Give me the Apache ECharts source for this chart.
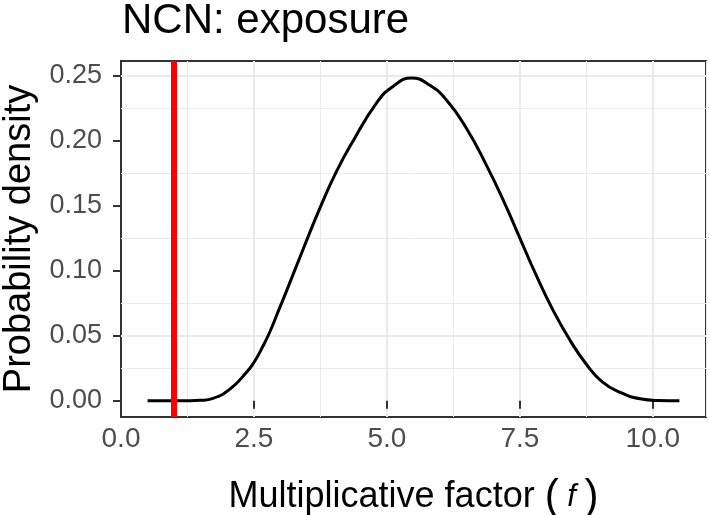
<!DOCTYPE html>
<html>
<head>
<meta charset="utf-8">
<script src="https://cdn.jsdelivr.net/npm/echarts@6/dist/echarts.min.js"></script>
<style>
html,body{margin:0;padding:0;background:#fff;}
#chart{width:709px;height:515px;}
</style>
</head>
<body>
<div id="chart"></div>
<script>
// Data
const curveX = [0.5, 1.0, 1.3, 1.5, 1.73, 2.05, 2.36, 2.5, 2.67, 2.80, 2.96, 3.11, 3.43, 3.74, 4.05, 4.37, 4.81, 5.1, 5.46, 5.8, 6.12, 6.5, 6.87, 7.2, 7.5, 7.8, 8.13, 8.45, 8.75, 9.05, 9.38, 9.76, 10.1, 10.5];
const curveY = [0, 0, 0, 0.0003, 0.0018, 0.009, 0.0218, 0.0294, 0.042, 0.053, 0.069, 0.084, 0.117, 0.148, 0.176, 0.200, 0.229, 0.241, 0.248, 0.2425, 0.231, 0.209, 0.181, 0.153, 0.125, 0.097, 0.069, 0.046, 0.028, 0.0145, 0.0065, 0.0015, 0.0002, 0];
const refLineX = [1];
const xTicks = [0, 2.5, 5, 7.5, 10];
const yTicks = [0, 0.05, 0.10, 0.15, 0.20, 0.25];
const titleText = 'NCN: exposure';
const xTitle = 'Multiplicative factor';
const yTitle = 'Probability density';

const FONT = 'Liberation Sans';
const MAJOR = '#EBEBEB';
const T = 'rgba(0,0,0,0)';

const chart = echarts.init(document.getElementById('chart'), null, {renderer: 'canvas'});

const curveData = curveX.map((x, i) => [x, curveY[i]]);

const option = {
  animation: false,
  backgroundColor: '#fff',
  title: {
    text: titleText,
    left: 122, top: 0, padding: 0,
    textStyle: {fontFamily: FONT, fontSize: 42, fontWeight: 'normal', color: '#000'}
  },
  grid: {
    left: 121, right: 3, top: 61, bottom: 98,
    outerBoundsMode: 'none', containLabel: false,
    show: true, borderColor: '#333333', borderWidth: 2, backgroundColor: '#fff'
  },
  xAxis: [{
    type: 'value', min: 0, max: 11, interval: 2.5,
    axisLine: {show: false},
    axisTick: {show: true, length: 8, customValues: xTicks, lineStyle: {color: '#333333', width: 2}},
    axisLabel: {customValues: xTicks, margin: 8, fontFamily: FONT, fontSize: 28, color: '#4D4D4D',
      formatter: v => v.toFixed(1)},
    splitLine: {show: true, lineStyle: {color: [T, MAJOR, MAJOR, MAJOR, MAJOR, T], width: 2}},
    name: '{n|' + xTitle + ' }{p|(}{i| f }{p|)}',
    nameLocation: 'middle', nameGap: 59,
    nameTextStyle: {
      rich: {
        n: {fontFamily: FONT, fontSize: 36, color: '#000'},
        p: {fontFamily: FONT, fontSize: 42, color: '#000'},
        i: {fontFamily: FONT, fontSize: 31, fontStyle: 'italic', color: '#000'}
      }
    }
  }, {
    type: 'value', min: 0, max: 11, interval: 1.25, position: 'bottom',
    axisLine: {show: false}, axisTick: {show: false}, axisLabel: {show: false},
    splitLine: {show: true, lineStyle: {color: [T, MAJOR], width: 1}}
  }],
  yAxis: [{
    type: 'value', min: -0.0125, max: 0.261, interval: 0.0125,
    axisLine: {show: false},
    axisTick: {show: true, length: 8, customValues: yTicks, lineStyle: {color: '#333333', width: 2}},
    axisLabel: {customValues: yTicks, margin: 19, fontFamily: FONT, fontSize: 27, color: '#4D4D4D',
      formatter: v => v.toFixed(2)},
    splitLine: {show: true, lineStyle: {color: [T, MAJOR, T, T], width: 2}},
    name: yTitle, nameLocation: 'middle', nameGap: 75, nameRotate: 90,
    nameTextStyle: {fontFamily: FONT, fontSize: 38, color: '#000'}
  }, {
    type: 'value', min: -0.0125, max: 0.261, interval: 0.0125, position: 'left',
    axisLine: {show: false}, axisTick: {show: false}, axisLabel: {show: false},
    splitLine: {show: true, lineStyle: {color: [T, T, T, MAJOR], width: 1}}
  }],
  series: [{
    type: 'line',
    data: curveData,
    xAxisIndex: 0, yAxisIndex: 0,
    showSymbol: false, smooth: 0.5,
    lineStyle: {color: '#000', width: 3},
    z: 3
  }, {
    type: 'line',
    data: [],
    xAxisIndex: 0, yAxisIndex: 0,
    markLine: {
      silent: true, symbol: 'none', z: 5,
      label: {show: false},
      lineStyle: {color: '#FF0000', width: 6, type: 'solid'},
      data: refLineX.map(x => ({xAxis: x}))
    }
  }]
};
chart.setOption(option);
</script>
</body>
</html>
